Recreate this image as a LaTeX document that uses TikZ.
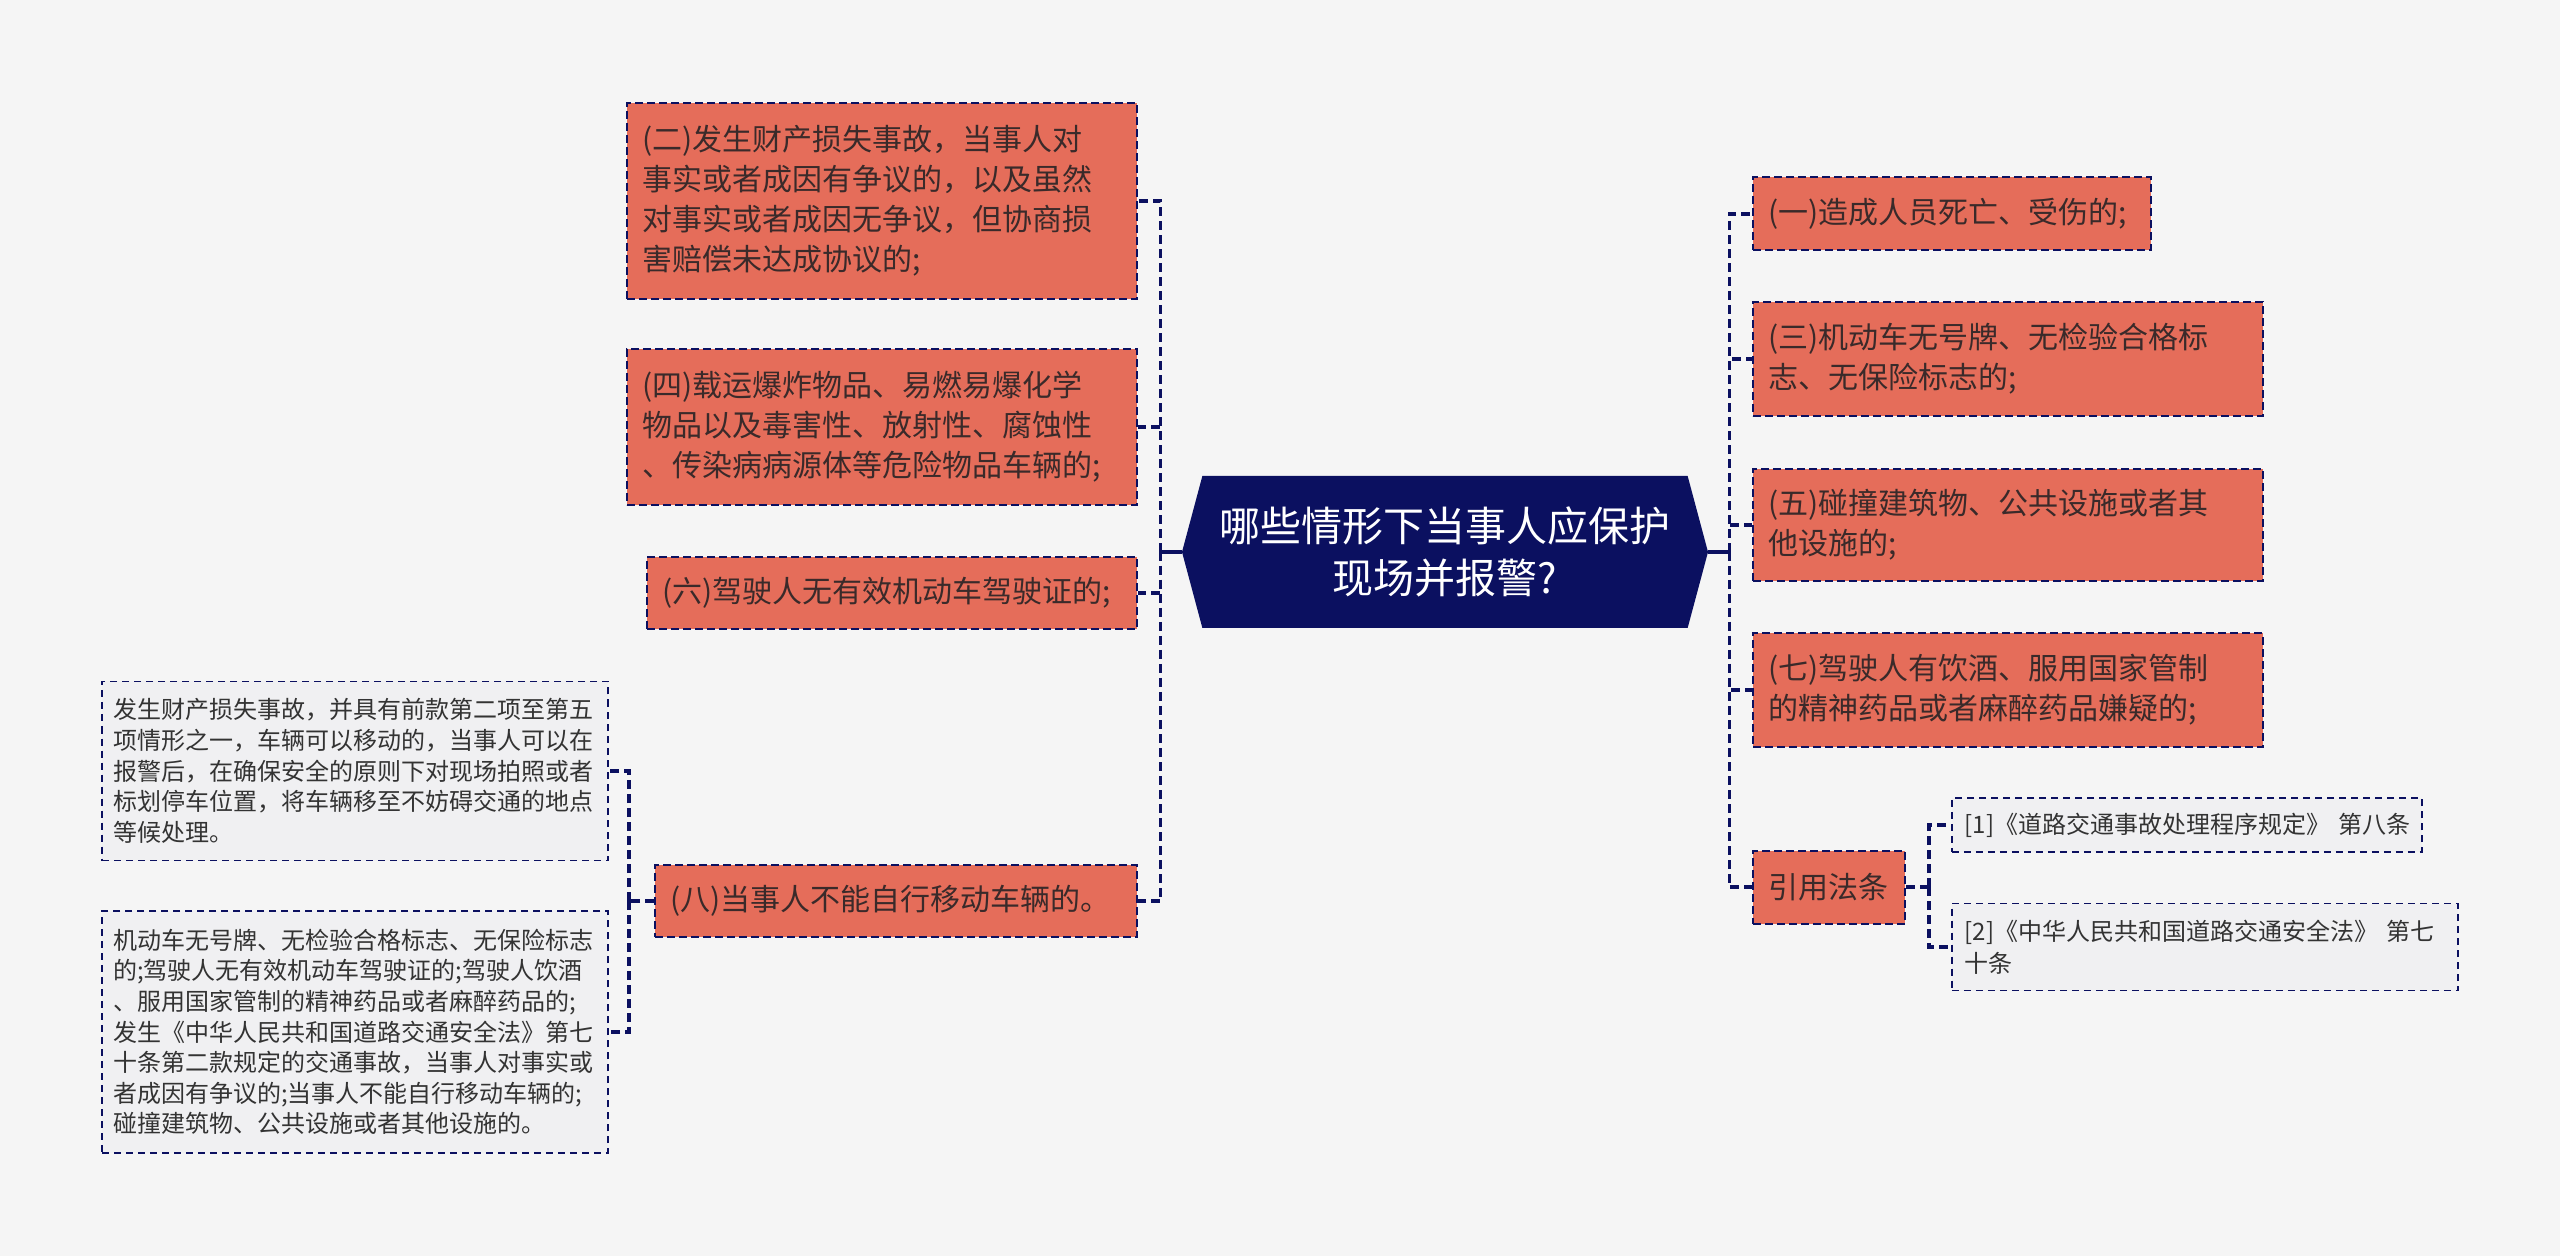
\documentclass[tikz,border=0pt]{standalone}
\usepackage{fontspec}
\setmainfont{Noto Sans CJK SC}
\usepackage{tikz}
\usetikzlibrary{shapes.symbols, positioning}
\definecolor{navy}{HTML}{0B1060}
\definecolor{salmon}{HTML}{E56D5A}
\definecolor{ink}{HTML}{3A2A2A}
\definecolor{paper}{HTML}{F5F5F5}
\definecolor{leafbg}{HTML}{F0F0F2}
\tikzstyle{conn} = [navy, line width=1.6pt, dash pattern=on 4.5pt off 2.5pt]
\tikzstyle{stub} = [navy, line width=1.8pt]

\begin{document}
\begin{tikzpicture}[
        x=0.5pt, y=-0.5pt,
        every node/.style={font=\fontsize{15}{20}\selectfont, text=ink},
        topic/.style={rectangle, draw=navy, fill=salmon, line width=1pt,
            dash pattern=on 4pt off 2pt, inner xsep=7.5pt, inner ysep=3pt,
            align=left},
        leaf/.style={rectangle, draw=navy, fill=leafbg, line width=0.85pt,
            dash pattern=on 3.5pt off 2.5pt, inner xsep=5.5pt, inner ysep=3pt,
            align=left, text=black!80, font=\fontsize{12}{15.3}\selectfont},
        root/.style={signal, signal to=west and east, signal pointer angle=150,
            fill=navy, text=white, align=center, inner sep=2pt,
            minimum width=263pt, minimum height=76pt,
            font=\fontsize{20.5}{26}\selectfont}
    ]
    \fill[paper] (0,0) rectangle (2560,1256);

    \node (root) [root] at (1445,552) {哪些情形下当事人应保护\\现场并报警?};

    % left branch
    \node (n2) [topic, text width=240pt, minimum height=98pt, anchor=east]
        at (1138,201) {(二)发生财产损失事故，当事人对\\事实或者成因有争议的，以及虽然\\对事实或者成因无争议，但协商损\\害赔偿未达成协议的;};
    \node (n4) [topic, text width=240pt, minimum height=78pt, anchor=east]
        at (1138,427) {(四)载运爆炸物品、易燃易爆化学\\物品以及毒害性、放射性、腐蚀性\\、传染病病源体等危险物品车辆的;};
    \node (n6) [topic, text width=230pt, minimum height=36pt, anchor=east]
        at (1138,593) {(六)驾驶人无有效机动车驾驶证的;};
    \node (n8) [topic, text width=226pt, minimum height=36pt, anchor=east]
        at (1138,901) {(八)当事人不能自行移动车辆的。};
    \node (moveA) [leaf, text width=242pt, minimum height=89.5pt, anchor=east]
        at (609,771) {发生财产损失事故，并具有前款第二项至第五\\项情形之一，车辆可以移动的，当事人可以在\\报警后，在确保安全的原则下对现场拍照或者\\标划停车位置，将车辆移至不妨碍交通的地点\\等候处理。};
    \node (moveB) [leaf, text width=242pt, minimum height=121pt, anchor=east]
        at (609,1032) {机动车无号牌、无检验合格标志、无保险标志\\的;驾驶人无有效机动车驾驶证的;驾驶人饮酒\\、服用国家管制的精神药品或者麻醉药品的;\\发生《中华人民共和国道路交通安全法》第七\\十条第二款规定的交通事故，当事人对事实或\\者成因有争议的;当事人不能自行移动车辆的;\\碰撞建筑物、公共设施或者其他设施的。};

    % right branch
    \node (n1) [topic, text width=184pt, minimum height=36.5pt, anchor=west]
        at (1752,214) {(一)造成人员死亡、受伤的;};
    \node (n3) [topic, text width=240pt, minimum height=57pt, anchor=west]
        at (1752,359) {(三)机动车无号牌、无检验合格标\\志、无保险标志的;};
    \node (n5) [topic, text width=240pt, minimum height=56pt, anchor=west]
        at (1752,525) {(五)碰撞建筑物、公共设施或者其\\他设施的;};
    \node (n7) [topic, text width=240pt, minimum height=56.5pt, anchor=west]
        at (1752,690) {(七)驾驶人有饮酒、服用国家管制\\的精神药品或者麻醉药品嫌疑的;};
    \node (law) [topic, text width=61pt, minimum height=36.5pt, anchor=west]
        at (1752,887) {引用法条};
    \node (ref1) [leaf, text width=222pt, minimum height=27pt, anchor=west,
        inner xsep=6.5pt]
        at (1951,825) {[1]《道路交通事故处理程序规定》~第八条};
    \node (ref2) [leaf, text width=240pt, minimum height=43.5pt, anchor=west,
        inner xsep=6.5pt, font=\fontsize{12}{16}\selectfont]
        at (1951,947) {[2]《中华人民共和国道路交通安全法》~第七\\十条};

    % connectors
    \draw [stub] (root.west) -- ++(-21,0) coordinate (lbus);
    \draw [conn] (lbus) |- (n2.east);
    \draw [conn] (lbus) |- (n4.east);
    \draw [conn] (lbus) |- (n6.east);
    \draw [conn] (lbus) |- (n8.east);
    \draw [conn] (n8.west) -- ++(-25,0) coordinate (bus8);
    \draw [conn] (bus8) |- (moveA.east);
    \draw [conn] (bus8) |- (moveB.east);
    \draw [stub] (root.east) -- ++(21,0) coordinate (rbus);
    \draw [conn] (rbus) |- (n1.west);
    \draw [conn] (rbus) |- (n3.west);
    \draw [conn] (rbus) |- (n5.west);
    \draw [conn] (rbus) |- (n7.west);
    \draw [conn] (rbus) |- (law.west);
    \draw [conn] (law.east) -- ++(23,0) coordinate (bus9);
    \draw [conn] (bus9) |- (ref1.west);
    \draw [conn] (bus9) |- (ref2.west);
\end{tikzpicture}
\end{document}
